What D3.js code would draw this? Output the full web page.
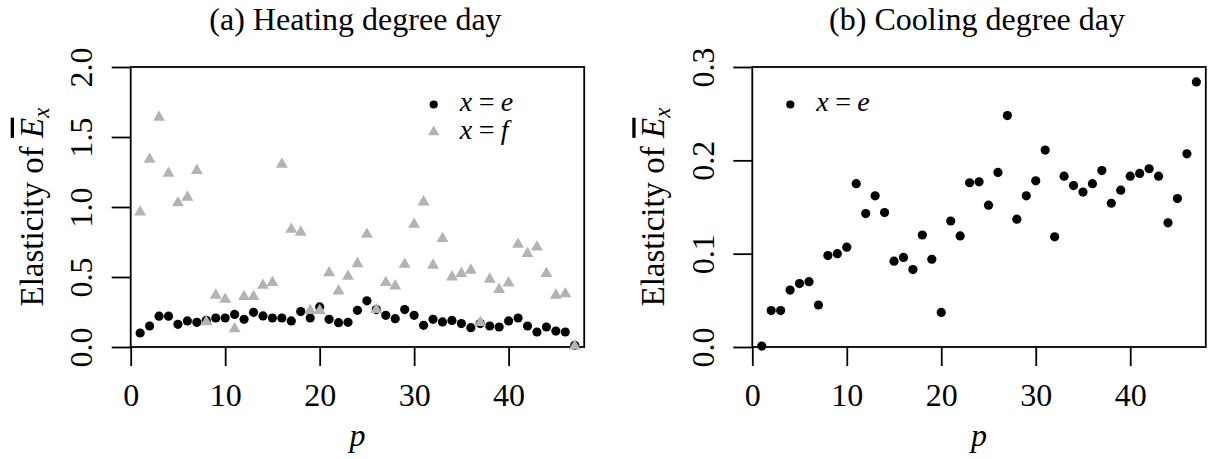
<!DOCTYPE html>
<html>
<head>
<meta charset="utf-8">
<script src="https://cdn.jsdelivr.net/npm/d3@7"></script>
<style>
  body { margin: 0; background: #fff; }
  svg text { font-family: "Liberation Serif", "Times New Roman", serif; fill: #000; }
</style>
</head>
<body>
<svg id="chart" width="1211" height="459"></svg>
<script>
// p index (regions)
var pIdx = [1,2,3,4,5,6,7,8,9,10,11,12,13,14,15,16,17,18,19,20,21,22,23,24,
            25,26,27,28,29,30,31,32,33,34,35,36,37,38,39,40,41,42,43,44,45,46,47];

// (a) heating degree day, x = e
var heatE = [0.10,0.15,0.22,0.22,0.162,0.186,0.176,0.19,0.207,0.207,0.233,0.198,0.248,0.222,
             0.207,0.207,0.186,0.253,0.207,0.286,0.198,0.174,0.176,0.262,0.33,0.267,0.226,
             0.202,0.267,0.226,0.155,0.198,0.179,0.19,0.167,0.138,0.167,0.15,0.143,0.186,
             0.207,0.15,0.107,0.143,0.114,0.107,0.012];
// (a) heating degree day, x = f
var heatF = [0.964,1.34,1.64,1.24,1.03,1.07,1.26,0.18,0.37,0.34,0.13,0.36,0.36,0.44,0.46,
             1.305,0.84,0.82,0.26,0.26,0.53,0.40,0.505,0.595,0.805,0.267,0.46,0.436,0.59,
             0.876,1.036,0.584,0.774,0.50,0.524,0.548,0.174,0.484,0.41,0.457,0.733,0.667,
             0.714,0.524,0.37,0.38,0.007];
// (b) cooling degree day, x = e
var coolE = [0.001,0.039,0.039,0.061,0.068,0.070,0.045,0.098,0.100,0.107,0.175,0.143,0.162,
             0.144,0.092,0.096,0.083,0.120,0.094,0.037,0.135,0.119,0.176,0.177,0.152,0.187,
             0.248,0.137,0.162,0.178,0.211,0.118,0.183,0.173,0.166,0.175,0.189,0.154,0.168,
             0.183,0.186,0.191,0.183,0.133,0.159,0.207,0.284];

var xTicks = [0,10,20,30,40];
var yTicksA = [0,0.5,1.0,1.5,2.0];
var yTicksB = [0,0.1,0.2,0.3];

var svg = d3.select("#chart");
var fs = 32;
var plotW = 453.5, plotH = 280, plotTop = 67;

function drawPanel(left, title, yMax, yTicks, series) {
    var x = d3.scaleLinear().domain([0, 48]).range([left, left + plotW]);
    var y = d3.scaleLinear().domain([0, yMax]).range([plotTop + plotH, plotTop]);
    var g = svg.append("g");

    // x axis
    var ax = g.append("g")
        .attr("transform", "translate(0," + (plotTop + plotH) + ")")
        .call(d3.axisBottom(x).tickValues(xTicks).tickSize(19).tickSizeOuter(0).tickPadding(0));
    ax.select(".domain").remove();
    ax.selectAll("line").attr("stroke", "#000").attr("stroke-width", 1.8);
    ax.selectAll("text").attr("font-size", fs).attr("y", 58.5).attr("dy", null);

    // y axis, labels parallel to the axis
    var ay = g.append("g")
        .attr("transform", "translate(" + left + ",0)")
        .call(d3.axisLeft(y).tickValues(yTicks).tickSize(19).tickSizeOuter(0).tickFormat(d3.format(".1f")));
    ay.select(".domain").remove();
    ay.selectAll("line").attr("stroke", "#000").attr("stroke-width", 1.8);
    ay.selectAll("text")
        .attr("font-size", fs)
        .attr("text-anchor", "middle")
        .attr("transform", "rotate(-90)")
        .attr("x", 0).attr("y", -38.5).attr("dy", null);

    // box
    g.append("rect")
        .attr("x", left).attr("y", plotTop)
        .attr("width", plotW).attr("height", plotH)
        .attr("fill", "none").attr("stroke", "#000").attr("stroke-width", 1.8);

    g.append("text")
        .attr("x", left + plotW / 2 - 2).attr("y", 30)
        .attr("text-anchor", "middle").attr("font-size", fs)
        .text(title);

    g.append("text")
        .attr("x", left + plotW / 2).attr("y", 446)
        .attr("text-anchor", "middle").attr("font-size", fs)
        .attr("font-style", "italic")
        .text("p");

    var yl = g.append("text")
        .attr("transform", "translate(" + (left - 88) + "," + (plotTop + plotH / 2) + ") rotate(-90)")
        .attr("text-anchor", "middle").attr("font-size", 33);
    yl.append("tspan").text("Elasticity of ");
    yl.append("tspan").attr("font-style", "italic").attr("text-decoration", "overline").text("E");
    yl.append("tspan").attr("font-style", "italic").attr("font-size", 23).attr("dy", 6).text("x");

    // points: circles first, triangles on top
    series.forEach(function(s) {
        var pts = pIdx.map(function(p, i) { return {p: p, v: s.values[i]}; });
        if (s.shape == "circle") {
            g.append("g").selectAll("circle").data(pts).enter().append("circle")
                .attr("cx", function(d) { return x(d.p); })
                .attr("cy", function(d) { return y(d.v); })
                .attr("r", 4.6).attr("fill", s.color);
        } else {
            var tri = d3.symbol().type(d3.symbolTriangle).size(62);
            g.append("g").selectAll("path").data(pts).enter().append("path")
                .attr("d", tri)
                .attr("transform", function(d) { return "translate(" + x(d.p) + "," + y(d.v) + ")"; })
                .attr("fill", s.color);
        }
    });

    // legend (symbol, then x = label as separate pieces)
    series.forEach(function(s, i) {
        var ly = 104.5 + i * 27.5;
        var lx = left + s.legendX;
        if (s.shape == "circle") {
            g.append("circle").attr("cx", lx).attr("cy", ly).attr("r", 4.1).attr("fill", s.color);
        } else {
            g.append("path").attr("d", d3.symbol().type(d3.symbolTriangle).size(55))
                .attr("transform", "translate(" + lx + "," + ly + ")").attr("fill", s.color);
        }
        var ty = ly + 6.5;
        g.append("text").attr("x", lx + 26).attr("y", ty).attr("font-size", 28)
            .attr("font-style", "italic").text("x");
        g.append("text").attr("x", lx + 45).attr("y", ty).attr("font-size", 28).text("=");
        g.append("text").attr("x", lx + 67).attr("y", ty).attr("font-size", 28)
            .attr("font-style", "italic").text(s.label);
    });
}

drawPanel(130.7, "(a) Heating degree day", 2.0, yTicksA, [
    {values: heatE, shape: "circle", color: "#000", label: "e", legendX: 303},
    {values: heatF, shape: "triangle", color: "#b3b3b3", label: "f", legendX: 303}
]);
drawPanel(752.3, "(b) Cooling degree day", 0.3, yTicksB, [
    {values: coolE, shape: "circle", color: "#000", label: "e", legendX: 38}
]);
</script>
</body>
</html>
